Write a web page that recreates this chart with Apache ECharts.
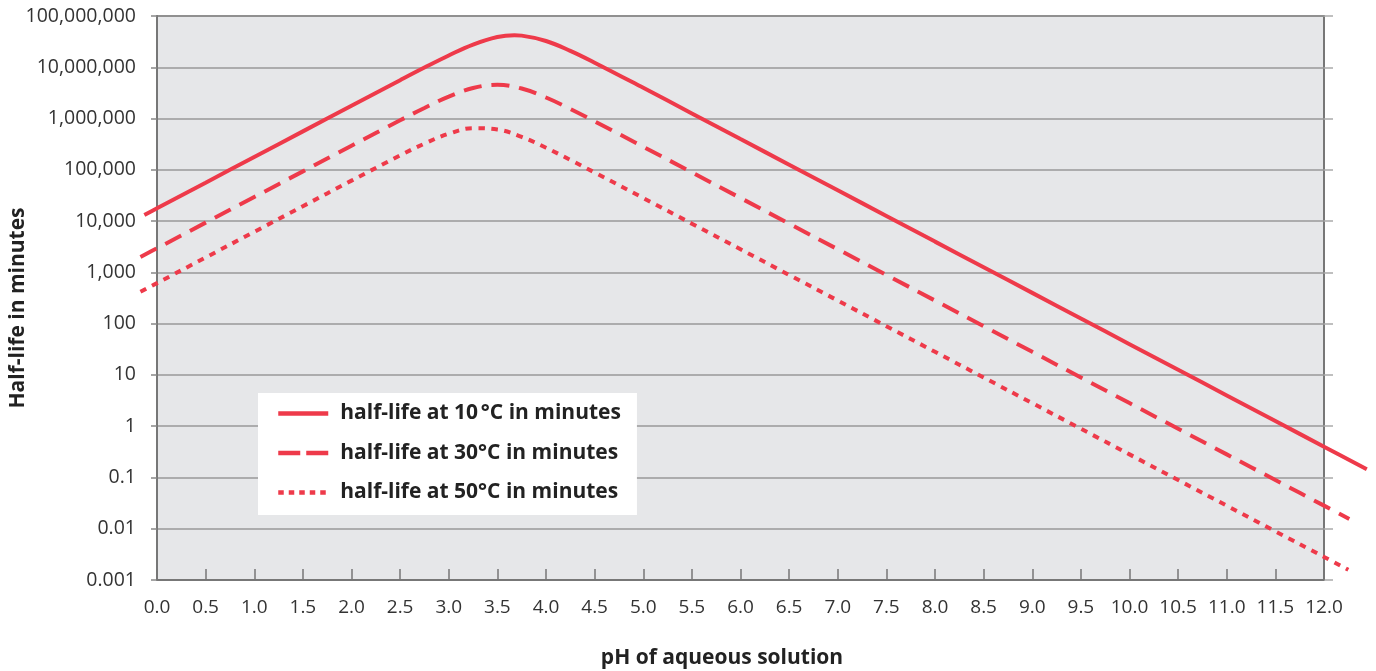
<!DOCTYPE html>
<html>
<head>
<meta charset="utf-8">
<script src="https://cdn.jsdelivr.net/npm/echarts@6/dist/echarts.min.js"></script>
<style>
html,body{margin:0;padding:0;background:#fff;}
#chart{width:1376px;height:671px;}
</style>
</head>
<body>
<div id="chart"></div>
<script>
// pH values and half-lives (minutes)
const ph10 = [-0.13, 0, 0.5, 1, 1.5, 2, 2.5, 2.75, 3, 3.25, 3.5, 3.675, 3.75, 4, 4.25, 4.5, 5, 5.5, 6, 6.5, 7, 7.5, 8, 8.5, 9, 9.5, 10, 10.5, 11, 11.5, 12, 12.44];
const t10  = [13200, 17800, 56200, 178000, 562000, 1778000, 5600000, 9860000, 17000000, 27700000, 38900000, 42100000, 41400000, 32500000, 20900000, 12300000, 3970000, 1260000, 398000, 126000, 39800, 12600, 3980, 1260, 398, 126, 39.8, 12.6, 3.98, 1.26, 0.398, 0.145];

const ph30 = [-0.17, 0, 0.5, 1, 1.5, 2, 2.5, 2.75, 3, 3.25, 3.5, 3.75, 4, 4.25, 4.5, 5, 5.5, 6, 6.5, 7, 7.5, 8, 8.5, 9, 9.5, 10, 10.5, 11, 11.5, 12, 12.26];
const t30  = [2000, 2950, 9330, 29500, 93300, 295000, 924000, 1607000, 2670000, 3940000, 4560000, 3850000, 2570000, 1540000, 883000, 282000, 89100, 28200, 8910, 2820, 891, 282, 89.1, 28.2, 8.91, 2.82, 0.891, 0.282, 0.0891, 0.0282, 0.0155];

const ph50 = [-0.17, 0, 0.5, 1, 1.5, 2, 2.5, 2.75, 3, 3.25, 3.5, 3.75, 4, 4.25, 4.5, 5, 5.5, 6, 6.5, 7, 7.5, 8, 8.5, 9, 9.5, 10, 10.5, 11, 11.5, 12, 12.25];
const t50  = [417, 617, 1950, 6170, 19500, 61500, 191000, 324000, 506000, 648000, 612000, 438000, 270000, 156000, 88700, 28200, 8910, 2820, 891, 282, 89.1, 28.2, 8.91, 2.82, 0.891, 0.282, 0.0891, 0.0282, 0.00891, 0.00282, 0.00158];

const seriesNames = ['half-life at 10\u202F°C in minutes', 'half-life at 30°C in minutes', 'half-life at 50°C in minutes'];
const xTitle = 'pH of aqueous solution';
const yTitle = 'Half-life in minutes';

const zip = (xs, ys) => xs.map((x, i) => [x, ys[i]]);

const RED = '#ee3a4a';
const FONT = '"Open Sans", "Noto Sans", sans-serif';

// plot frame: 0..12 pH over 1167 px; overhang grid spans -0.5..12.5 at the same scale
const PX_PER_UNIT = (1376 - 157 - 52) / 12;

const chart = echarts.init(document.getElementById('chart'));
chart.setOption({
  animation: false,
  backgroundColor: '#fff',
  textStyle: { fontFamily: FONT },
  grid: [{
    left: 157, right: 52, top: 16, bottom: 91,
    show: true, backgroundColor: '#e6e7e9', borderColor: '#777', borderWidth: 2
  }, {
    left: 157 - 0.5 * PX_PER_UNIT, right: 52 - 0.5 * PX_PER_UNIT, top: 16, bottom: 91,
    show: false
  }],
  legend: {
    orient: 'vertical',
    left: 258, top: 393,
    backgroundColor: '#fff',
    padding: [10, 16, 12, 18],
    itemGap: 18.5,
    itemWidth: 50,
    itemHeight: 20,
    itemStyle: { opacity: 0 },
    lineStyle: { width: 4.5, cap: 'butt' },
    textStyle: { fontFamily: FONT, fontSize: 21, fontWeight: 'bold', color: '#222', padding: [0, 0, 0, 7] },
    data: [
      { name: seriesNames[0], lineStyle: { type: 'solid', width: 4.5 } },
      { name: seriesNames[1], lineStyle: { type: [22, 6], width: 4.5 } },
      { name: seriesNames[2], lineStyle: { type: [5.5, 5], width: 4.5 } }
    ]
  },
  xAxis: [{
    gridIndex: 0, type: 'value', min: 0, max: 12, interval: 0.5,
    axisLine: { show: true, lineStyle: { color: '#777', width: 2 } },
    axisTick: { show: true, inside: true, length: 11, lineStyle: { color: '#777', width: 1.5 } },
    axisLabel: { fontSize: 19, color: '#333', margin: 18, fontFamily: FONT, formatter: v => v.toFixed(1) },
    splitLine: { show: false }
  }, {
    gridIndex: 1, type: 'value', min: -0.5, max: 12.5, show: false,
    splitLine: { show: false }
  }],
  yAxis: [{
    gridIndex: 0, type: 'log', logBase: 10, min: 0.001, max: 100000000, interval: 1,
    axisLine: { show: true, lineStyle: { color: '#777', width: 2 } },
    axisTick: { show: true, inside: false, length: 6, lineStyle: { color: '#888', width: 1.5 } },
    axisLabel: {
      fontSize: 19.5, color: '#333', margin: 21, fontFamily: FONT,
      formatter: v => v >= 1 ? Math.round(v).toLocaleString('en-US') : String(Number(v.toPrecision(1)))
    },
    splitLine: { show: true, lineStyle: { color: '#999', width: 1.5 } }
  }, {
    gridIndex: 0, type: 'log', logBase: 10, min: 0.001, max: 100000000, interval: 1, position: 'right',
    axisLine: { show: false },
    axisTick: { show: true, inside: false, length: 9, lineStyle: { color: '#aaa', width: 1.5 } },
    axisLabel: { show: false },
    splitLine: { show: false }
  }, {
    gridIndex: 1, type: 'log', logBase: 10, min: 0.001, max: 100000000, show: false,
    splitLine: { show: false }
  }],
  graphic: [
    { type: 'text', x: 722, y: 658, style: { text: xTitle, align: 'center', verticalAlign: 'middle', font: 'bold 21px ' + FONT, fill: '#222' } },
    { type: 'text', x: 18, y: 308, rotation: Math.PI / 2, style: { text: yTitle, align: 'center', verticalAlign: 'middle', font: 'bold 21px ' + FONT, fill: '#222' } }
  ],
  series: [
    { name: seriesNames[0], type: 'line', xAxisIndex: 1, yAxisIndex: 2, data: zip(ph10, t10), symbol: 'none', showSymbol: false, clip: false, smooth: 0.4,
      color: RED, lineStyle: { color: RED, width: 4, type: 'solid' } },
    { name: seriesNames[1], type: 'line', xAxisIndex: 1, yAxisIndex: 2, data: zip(ph30, t30), symbol: 'none', showSymbol: false, clip: false, smooth: 0.4,
      color: RED, lineStyle: { color: RED, width: 4, type: [18, 10], cap: 'butt' } },
    { name: seriesNames[2], type: 'line', xAxisIndex: 1, yAxisIndex: 2, data: zip(ph50, t50), symbol: 'none', showSymbol: false, clip: false, smooth: 0.4,
      color: RED, lineStyle: { color: RED, width: 4, type: [6.5, 6.5], cap: 'butt' } }
  ]
});
</script>
</body>
</html>
